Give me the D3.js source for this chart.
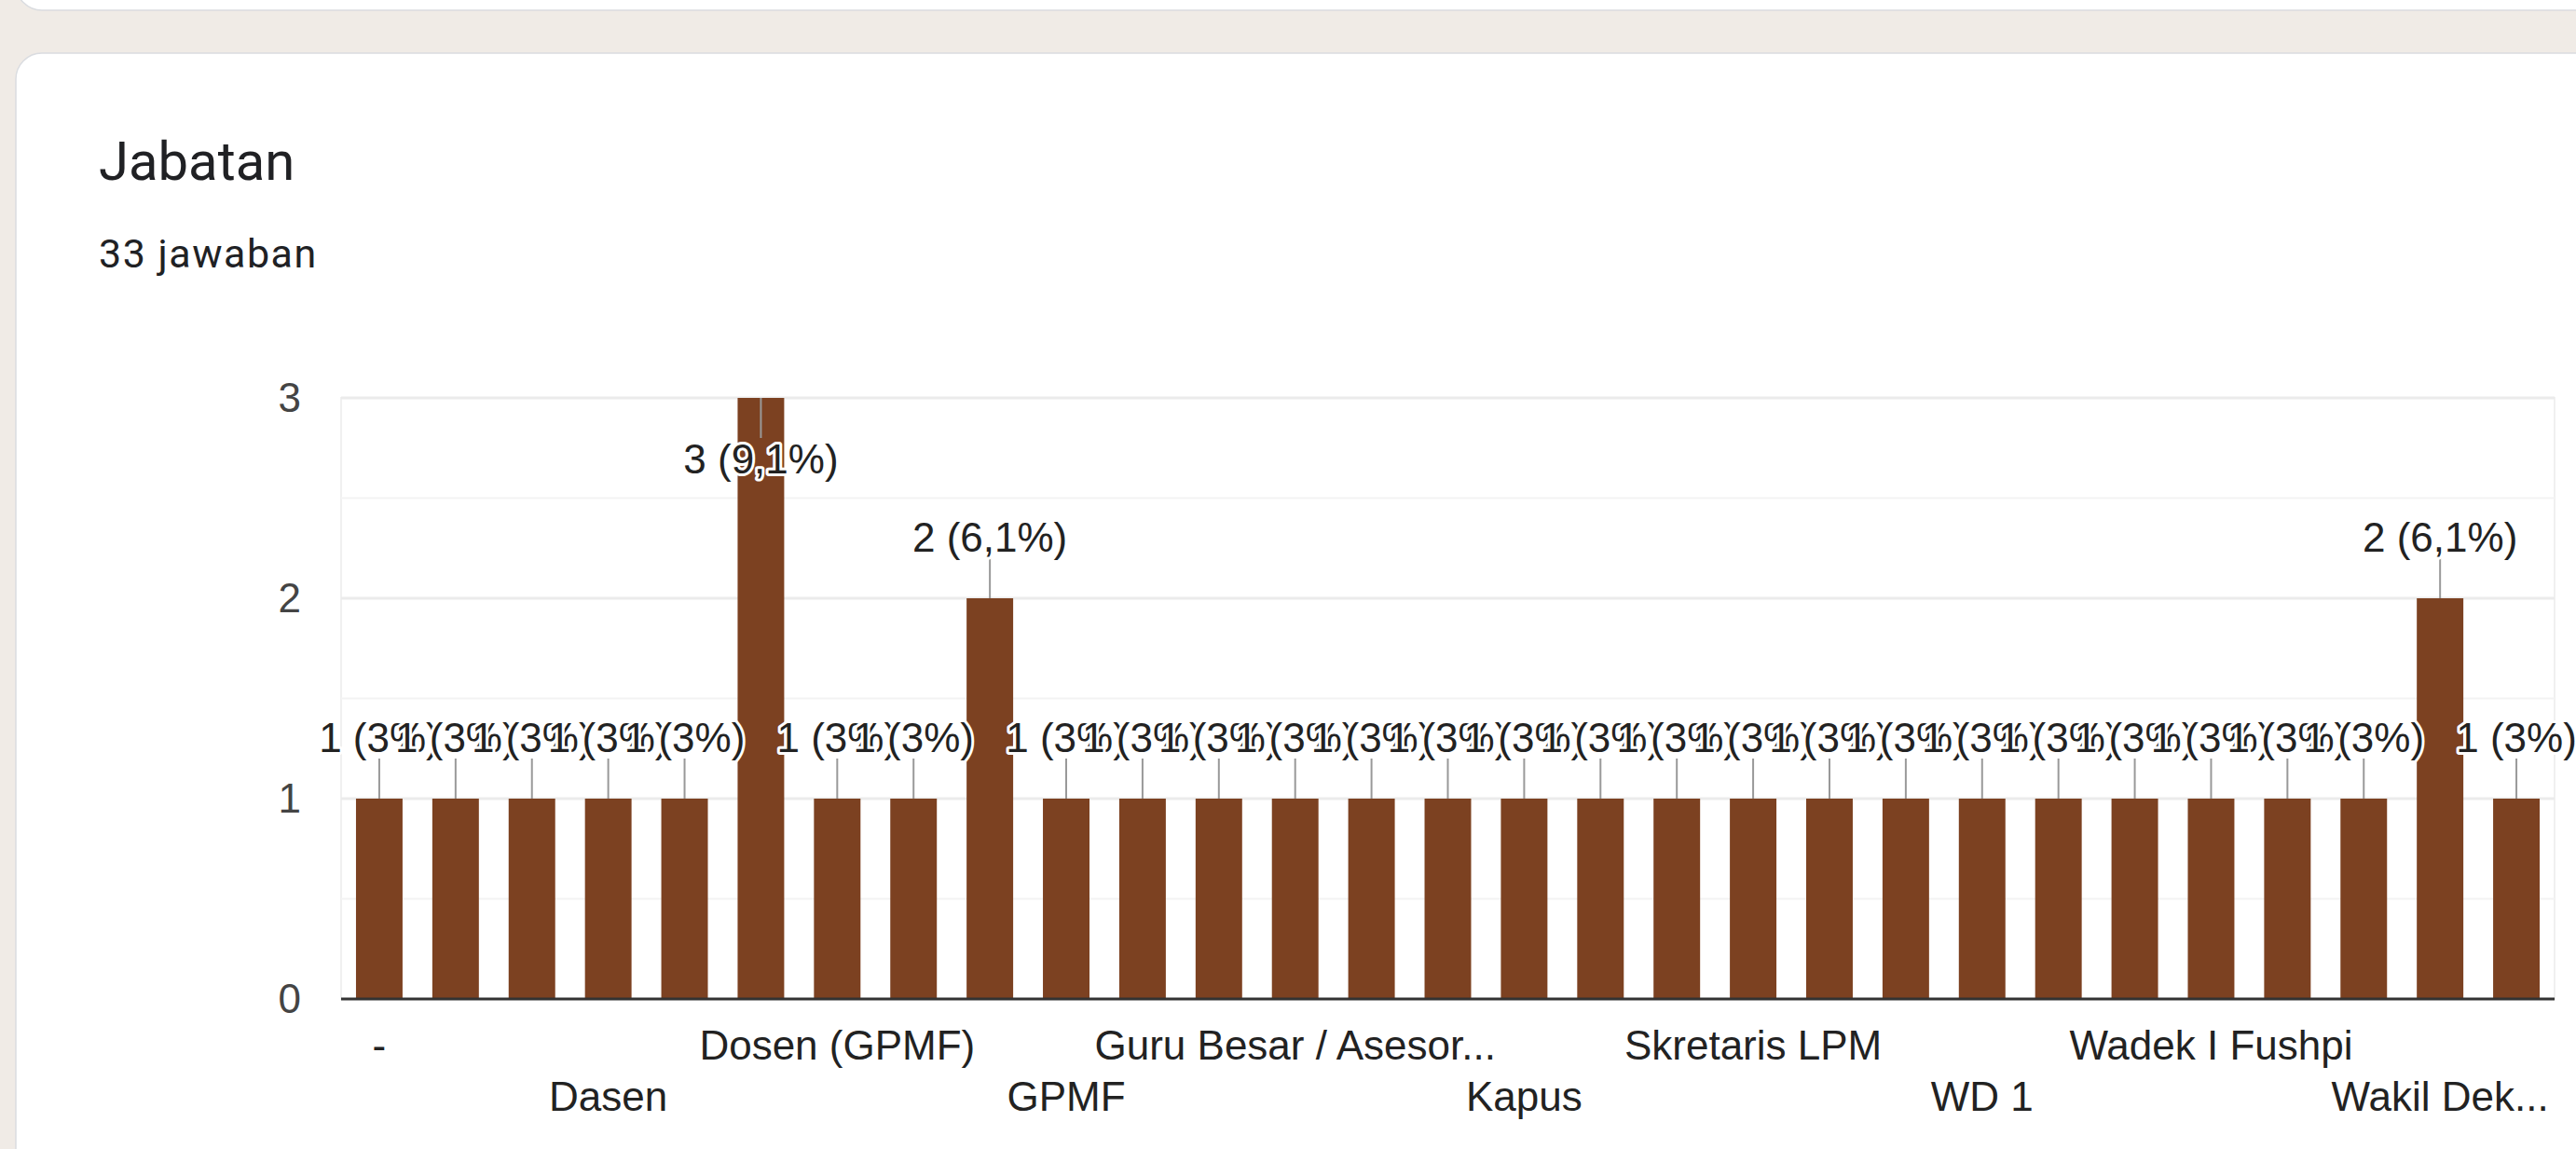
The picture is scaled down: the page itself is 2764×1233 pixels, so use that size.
<!DOCTYPE html>
<html>
<head>
<meta charset="utf-8">
<script src="https://cdn.jsdelivr.net/npm/d3@7/dist/d3.min.js"></script>
<style>
  html, body { margin: 0; padding: 0; background: #f0ebe6; overflow: hidden; }
  svg { display: block; }
</style>
</head>
<body>
<svg id="chart" width="2764" height="1233"></svg>
<script>
// ---- data ----
const title = "Jabatan";
const subtitle = "33 jawaban";
const categories = [
  "-", "Anggota GPM", "Asesor", "Dasen", "Dekan", "Dosen", "Dosen (GPMF)", "Dosen Tetap",
  "GPM", "GPMF", "GPMF FEBI", "Guru Besar", "Guru Besar / Asesor...", "Kaprodi", "Kaprodi S1",
  "Kapus", "Ketua GPM", "Ketua LPM", "Skretaris LPM", "Staf LPM", "UPM", "WD 1", "WD I",
  "Wadek I", "Wadek I Fushpi", "Wadek III", "Wakil Dekan", "Wakil Dek...", "Wakil Direktur"
];
const values = [1,1,1,1,1,3,1,1,2,1,1,1,1,1,1,1,1,1,1,1,1,1,1,1,1,1,1,2,1];
const total = 33;
const yTicks = [0, 1, 2, 3];
const yMinor = [0.5, 1.5, 2.5];
const labelEvery = 3;

// ---- layout ----
const svg = d3.select("#chart");
const W = 2764, H = 1233;
const plot = { left: 366, right: 2741, top: 427, bottom: 1072 };
const barColor = "#7c4121";
const chartFont = "'Liberation Sans', Arial, sans-serif";

// cards
svg.append("rect").attr("x", 17).attr("y", -200).attr("width", 2900).attr("height", 211)
  .attr("rx", 28).attr("fill", "#fff").attr("stroke", "#dadce0").attr("stroke-width", 1.5);
svg.append("rect").attr("x", 17).attr("y", 57).attr("width", 2900).attr("height", 1400)
  .attr("rx", 28).attr("fill", "#fff").attr("stroke", "#dadce0").attr("stroke-width", 1.5);

svg.append("text").attr("x", 106).attr("y", 193).text(title)
  .attr("font-family", "Roboto, sans-serif").attr("font-size", 58).attr("fill", "#202124");
svg.append("text").attr("x", 106).attr("y", 287).text(subtitle)
  .attr("font-family", "Roboto, sans-serif").attr("font-size", 43).attr("letter-spacing", 1.5)
  .attr("fill", "#202124");

// scales
const x = d3.scaleBand().domain(categories.map((c, i) => i))
  .range([plot.left, plot.right]).paddingInner(0.39).paddingOuter(0.195);
const y = d3.scaleLinear().domain([0, 3]).range([plot.bottom, plot.top]);

const g = svg.append("g");

// frame + gridlines
g.append("rect").attr("x", plot.left).attr("y", plot.top)
  .attr("width", plot.right - plot.left).attr("height", plot.bottom - plot.top)
  .attr("fill", "none").attr("stroke", "#f0f0f0").attr("stroke-width", 2);
g.selectAll("line.minor").data(yMinor).join("line").attr("class", "minor")
  .attr("x1", plot.left).attr("x2", plot.right)
  .attr("y1", d => y(d)).attr("y2", d => y(d))
  .attr("stroke", "#f3f3f3").attr("stroke-width", 2);
g.selectAll("line.major").data(yTicks.filter(d => d > 0)).join("line").attr("class", "major")
  .attr("x1", plot.left).attr("x2", plot.right)
  .attr("y1", d => y(d)).attr("y2", d => y(d))
  .attr("stroke", "#ebebeb").attr("stroke-width", 3);

// y axis labels
const yAxis = d3.axisLeft(y).tickValues(yTicks).tickSize(0).tickPadding(43).tickFormat(d3.format("d"));
const ya = g.append("g").attr("transform", `translate(${plot.left},0)`).call(yAxis);
ya.select(".domain").remove();
ya.selectAll("text").attr("font-family", chartFont).attr("font-size", 44).attr("fill", "#444");

// bars
g.selectAll("rect.bar").data(values).join("rect").attr("class", "bar")
  .attr("x", (d, i) => x(i)).attr("width", x.bandwidth())
  .attr("y", d => y(d)).attr("height", d => y(0) - y(d))
  .attr("fill", barColor);

// baseline
g.append("line").attr("x1", plot.left).attr("x2", plot.right)
  .attr("y1", y(0)).attr("y2", y(0)).attr("stroke", "#333").attr("stroke-width", 3);

// x labels (every 3rd, two staggered rows)
const xl = g.append("g");
categories.forEach((c, i) => {
  if (i % labelEvery !== 0) return;
  const row = (i / labelEvery) % 2;
  xl.append("text").attr("x", x(i) + x.bandwidth() / 2)
    .attr("y", row === 0 ? 1137 : 1192)
    .attr("text-anchor", "middle").attr("font-family", chartFont).attr("font-size", 44)
    .attr("fill", "#222").text(c);
});

// data labels
function pct(v) {
  let s = d3.format(".1f")(v / total * 100).replace(".", ",");
  s = s.replace(/,0$/, "");
  return `${v} (${s}%)`;
}
const maxV = y.domain()[1];
const lab = g.append("g");
values.forEach((v, i) => {
  const cx = x(i) + x.bandwidth() / 2;
  const top = y(v);
  const inside = v >= maxV;
  const lineEnd = inside ? top + 43 : top - 43;
  lab.append("line").attr("x1", cx).attr("x2", cx).attr("y1", top).attr("y2", lineEnd)
    .attr("stroke", "#999").attr("stroke-width", 2);
});
values.forEach((v, i) => {
  const cx = x(i) + x.bandwidth() / 2;
  const top = y(v);
  const inside = v >= maxV;
  lab.append("text").attr("x", cx).attr("y", inside ? top + 81 : top - 50)
    .attr("text-anchor", "middle").attr("font-family", chartFont).attr("font-size", 44)
    .attr("fill", "#222").attr("stroke", "#fff").attr("stroke-width", 6)
    .attr("stroke-linejoin", "round").attr("paint-order", "stroke")
    .text(pct(v));
});
</script>
</body>
</html>
